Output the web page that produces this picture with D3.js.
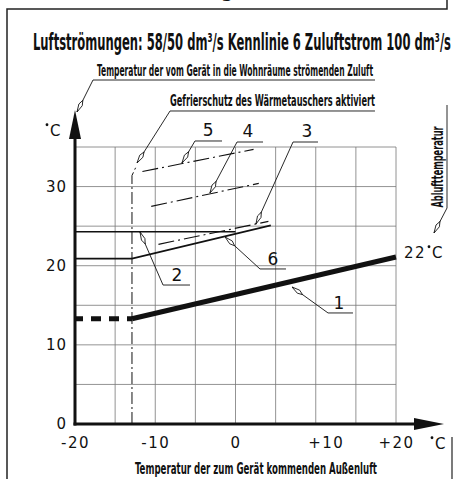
<!DOCTYPE html>
<html>
<head>
<meta charset="utf-8">
<script src="https://cdn.jsdelivr.net/npm/d3@7"></script>
<style>
  body { margin: 0; background: #fff; }
  .cond { font-family: "DejaVu Sans Condensed", "Liberation Sans Narrow", sans-serif; font-weight: bold; fill: #111; }
  .num { font-family: "DejaVu Sans", sans-serif; fill: #111; letter-spacing: 1.5px; }
  .grid line { stroke: #777; stroke-width: 0.8; }
</style>
</head>
<body>
<div id="chart"></div>
<script>
// values
let xTicks = [-20, -10, 0, 10, 20];
let xTickLabels = ["-20", "-10", "0", "+10", "+20"];
let yTicks = [0, 10, 20, 30];
let xGrid = [-15, -10, -5, 0, 5, 10, 15, 20];
let yGrid = [5, 10, 15, 20, 25, 30, 35];

let freezeX = -12.9;

let line1Dashed = [[-20, 13.3], [-12.9, 13.3]];
let line1 = [[-12.9, 13.3], [20, 21.1]];
let line6 = [[-20, 20.9], [-12.9, 20.9], [4.4, 25.1]];
let line2 = [[-20, 24.3], [0, 24.3]];
let line3 = [[-9.6, 22.7], [4.1, 25.6]];
let line4 = [[-10.5, 27.5], [2.9, 30.4]];
let line5 = [[-11.6, 31.9], [2.25, 34.7]];

// leader lines: [tip, knee, end], label position
let leaders = [
  {name: "5", pts: [[-6.67, 32.98], [-5.05, 35.76], [-1.68, 35.76]], label: [-3.4, 37.1]},
  {name: "4", pts: [[-3.18, 29.19], [0.19, 35.63], [3.43, 35.63]], label: [1.56, 37.0]},
  {name: "3", pts: [[2.55, 25.27], [7.17, 35.63], [10.28, 35.63]], label: [8.9, 37.0]},
  {name: "2", pts: [[-11.9, 24.26], [-9.03, 17.56], [-5.67, 17.56]], label: [-7.3, 18.8]},
  {name: "6", pts: [[-1.3, 23.63], [3.05, 19.59], [6.29, 19.59]], label: [4.67, 20.85]},
  {name: "1", pts: [[7.04, 17.31], [11.53, 14.03], [14.64, 14.03]], label: [12.9, 15.3]}
];

let width = 456, height = 479;

let svg = d3.select("#chart").append("svg")
    .attr("width", width)
    .attr("height", height)
    .style("background", "#fff");

let x = d3.scaleLinear().domain([-20, 20]).range([75, 396]);
let y = d3.scaleLinear().domain([0, 35]).range([424, 147]);

let defs = svg.append("defs");
defs.append("marker")
    .attr("id", "tip")
    .attr("viewBox", "0 -3 14 6")
    .attr("refX", 14).attr("refY", 0)
    .attr("markerWidth", 14).attr("markerHeight", 6)
    .attr("markerUnits", "userSpaceOnUse")
    .attr("orient", "auto")
    .append("path")
    .attr("d", "M1,0 L6,-1.9 L14,0 L6,1.9 Z")
    .attr("fill", "#fff")
    .attr("stroke", "#111")
    .attr("stroke-width", 0.8);

// frame
svg.append("path")
    .attr("d", "M7,479 V9 H447 V0")
    .attr("fill", "none").attr("stroke", "#222").attr("stroke-width", 1.5);
svg.append("line")
    .attr("x1", 452).attr("x2", 452).attr("y1", 437).attr("y2", 479)
    .attr("stroke", "#222").attr("stroke-width", 1.2);
svg.append("text").attr("class", "cond")
    .attr("x", 221).attr("y", -3).attr("font-size", 20).text("g");

// grid
let grid = svg.append("g").attr("class", "grid");
grid.selectAll(".gx").data(xGrid).enter().append("line")
    .attr("x1", d => x(d)).attr("x2", d => x(d))
    .attr("y1", y(0)).attr("y2", y(35));
grid.selectAll(".gy").data(yGrid).enter().append("line")
    .attr("x1", x(-20)).attr("x2", x(20))
    .attr("y1", d => y(d)).attr("y2", d => y(d));

let lineGen = d3.line().x(d => x(d[0])).y(d => y(d[1]));

// freeze protection line
svg.append("path")
    .attr("d", lineGen([[freezeX, 0], [freezeX, 31.4], [-12.3, 32.7]]))
    .attr("fill", "none").attr("stroke", "#111").attr("stroke-width", 1)
    .attr("stroke-dasharray", "12,3,2,3");

// curves
svg.append("path").attr("d", lineGen(line1Dashed))
    .attr("fill", "none").attr("stroke", "#111").attr("stroke-width", 5)
    .attr("stroke-dasharray", "10,8").attr("stroke-dashoffset", 2);
svg.append("path").attr("d", lineGen(line1))
    .attr("fill", "none").attr("stroke", "#111").attr("stroke-width", 5);
svg.append("path").attr("d", lineGen(line6))
    .attr("fill", "none").attr("stroke", "#111").attr("stroke-width", 1.6);
svg.append("path").attr("d", lineGen(line2))
    .attr("fill", "none").attr("stroke", "#111").attr("stroke-width", 1.6);
[line3, line4, line5].forEach(l => {
  svg.append("path").attr("d", lineGen(l))
      .attr("fill", "none").attr("stroke", "#111").attr("stroke-width", 1.1)
      .attr("stroke-dasharray", "16,4,2,4");
});

// leaders, drawn from the label end so the marker sits at the tip
leaders.forEach(l => {
  svg.append("path")
      .attr("d", lineGen(l.pts.slice().reverse()))
      .attr("fill", "none").attr("stroke", "#111").attr("stroke-width", 0.9)
      .attr("marker-end", "url(#tip)");
  svg.append("text").attr("class", "num")
      .attr("x", x(l.label[0])).attr("y", y(l.label[1]) + 6)
      .attr("text-anchor", "middle").attr("font-size", 17)
      .style("letter-spacing", "0px")
      .text(l.name);
});

// freeze leader
svg.append("path")
    .attr("d", lineGen([[17.38, 39.55], [-8.16, 39.55], [-12.27, 32.98]]))
    .attr("fill", "none").attr("stroke", "#111").attr("stroke-width", 0.9)
    .attr("marker-end", "url(#tip)");

// axes
svg.append("line")
    .attr("x1", x(-20)).attr("x2", x(-20)).attr("y1", y(0) + 1.5).attr("y2", 136)
    .attr("stroke", "#111").attr("stroke-width", 3);
svg.append("path").attr("d", "M75,110 L69,139 L81,139 Z").attr("fill", "#111");
svg.append("line")
    .attr("x1", x(-20) - 1.5).attr("x2", 418).attr("y1", y(0)).attr("y2", y(0))
    .attr("stroke", "#111").attr("stroke-width", 3);
svg.append("path").attr("d", "M444,424 L414,418 L414,430 Z").attr("fill", "#111");

let xAxis = d3.axisBottom(x).tickValues(xTicks).tickSize(0).tickPadding(13)
    .tickFormat((d, i) => xTickLabels[i]);
let yAxis = d3.axisLeft(y).tickValues(yTicks).tickSize(0).tickPadding(8);

let xAxisGroup = svg.append("g")
    .attr("transform", "translate(0," + y(0) + ")")
    .call(xAxis);
let yAxisGroup = svg.append("g")
    .attr("transform", "translate(" + x(-20) + ",0)")
    .call(yAxis);
[xAxisGroup, yAxisGroup].forEach(g => {
  g.select(".domain").remove();
  g.selectAll("text").attr("class", "num").attr("font-size", 15)
      .attr("font-family", null).attr("fill", "#111");
});
yAxisGroup.selectAll("text").attr("x", -8).style("letter-spacing", "1px");
xAxisGroup.selectAll(".tick text").filter(d => d === 10).attr("dx", 10);

// unit labels
function degC(cx, cy, size) {
  svg.append("circle").attr("cx", cx).attr("cy", cy - size * 0.75).attr("r", 1.4).attr("fill", "#111");
  svg.append("text").attr("class", "num").attr("x", cx + 3).attr("y", cy)
      .attr("font-size", size).text("C");
}
degC(47, 136, 15);
degC(432, 449, 15);

// texts
svg.append("text").attr("class", "cond")
    .attr("x", 33).attr("y", 50).attr("font-size", 23)
    .attr("textLength", 418).attr("lengthAdjust", "spacingAndGlyphs")
    .text("Luftströmungen: 58/50 dm³/s    Kennlinie 6 Zuluftstrom 100 dm³/s");

svg.append("text").attr("class", "cond")
    .attr("x", 97).attr("y", 76).attr("font-size", 16)
    .attr("textLength", 276).attr("lengthAdjust", "spacingAndGlyphs")
    .text("Temperatur der vom Gerät in die Wohnräume strömenden Zuluft");
svg.append("path")
    .attr("d", "M375,80 H93 L77,112")
    .attr("fill", "none").attr("stroke", "#111").attr("stroke-width", 0.9)
    .attr("marker-end", "url(#tip)");

svg.append("text").attr("class", "cond")
    .attr("x", 170).attr("y", 106).attr("font-size", 16)
    .attr("textLength", 205).attr("lengthAdjust", "spacingAndGlyphs")
    .text("Gefrierschutz des Wärmetauschers aktiviert");

svg.append("text").attr("class", "cond")
    .attr("x", 135).attr("y", 474).attr("font-size", 16)
    .attr("textLength", 242).attr("lengthAdjust", "spacingAndGlyphs")
    .text("Temperatur der zum Gerät kommenden Außenluft");

svg.append("text").attr("class", "cond")
    .attr("transform", "translate(443,167) rotate(-90)")
    .attr("text-anchor", "middle").attr("font-size", 15)
    .attr("textLength", 81).attr("lengthAdjust", "spacingAndGlyphs")
    .text("Ablufttemperatur");
svg.append("path")
    .attr("d", "M447,105 V208 L434,233")
    .attr("fill", "none").attr("stroke", "#111").attr("stroke-width", 0.9)
    .attr("marker-end", "url(#tip)");

svg.append("text").attr("class", "num")
    .attr("x", 404).attr("y", 258).attr("font-size", 15).text("22");
degC(429, 258, 15);
</script>
</body>
</html>
